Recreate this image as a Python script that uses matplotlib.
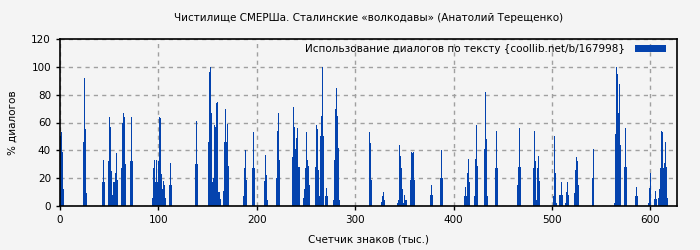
import matplotlib
matplotlib.use("Agg")
import matplotlib.pyplot as plt

positions = [0, 1, 2, 3,
             23, 24, 25, 26,
             43, 44, 45,
             49, 50, 51, 52, 53, 54, 55, 56, 57, 58,
             62, 63, 64, 65, 66,
             71, 72, 73,
             93, 94, 95, 96, 97, 98, 99, 100, 101, 102, 103, 104, 105, 106, 107,
             111, 112, 113,
             137, 138, 139,
             150, 151, 152, 153, 154, 155, 156, 157, 158, 159, 160, 161, 162, 163,
             166, 167, 168, 169, 170, 171,
             186, 187, 188, 189,
             195, 196, 197,
             207, 208, 209, 210,
             220, 221, 222, 223,
             236, 237, 238, 239, 240, 241, 242, 243,
             247, 248, 249, 250, 251, 252, 253,
             259, 260, 261, 262, 263,
             264, 265, 266, 267,
             269, 270, 271,
             277, 278, 279, 280, 281, 282, 283, 284,
             314, 315, 316,
             326, 327, 328, 329,
             342, 343, 344, 345, 346, 347, 348, 349, 350, 351, 352,
             356, 357, 358, 359, 360,
             376, 377, 378,
             386, 387, 388,
             411, 412, 413, 414, 415, 416,
             421, 422, 423, 424,
             431, 432, 433, 434,
             442, 443, 444,
             464, 465, 466, 467,
             481, 482, 483, 484, 485, 486, 487,
             501, 502, 503, 504,
             507, 508, 509, 510,
             513, 514, 515, 516,
             522, 523, 524, 525, 526,
             541, 542,
             563, 564, 565, 566, 567, 568, 569,
             573, 574, 575,
             584, 585, 586,
             598, 599, 600,
             604, 605, 606,
             608, 609, 610, 611, 612, 613, 614, 615, 616, 617]

values = [50, 53, 39, 12,
          46, 92, 55, 9,
          17, 33, 17,
          32, 64, 57, 25, 8, 17, 17, 24, 38, 19,
          27, 60, 67, 64, 30,
          32, 64, 32,
          6, 17, 27, 33, 17, 33, 17, 32, 64, 63, 23, 12, 18, 15, 6,
          15, 31, 15,
          30, 61, 30,
          46, 96, 100, 67, 17, 20, 49, 58, 57, 74, 75, 10, 10, 5,
          11, 46, 70, 46, 59, 29,
          7, 27, 40, 19,
          27, 53, 27,
          18, 37, 22, 4,
          20, 54, 67, 33,
          35, 71, 57, 41, 49, 56, 28, 28,
          6, 12, 27, 53, 33, 29, 15,
          28, 58, 55, 26, 7,
          50, 65, 100, 50,
          7, 13, 7,
          4, 33, 70, 85, 65, 77, 42, 4,
          53, 45, 19,
          3, 7, 10, 4,
          2, 4, 23, 44, 36, 27, 12, 2, 8, 4, 4,
          19, 39, 38, 39, 19,
          8, 15, 8,
          20, 40, 20,
          7, 14, 7, 24, 34, 17,
          7, 34, 58, 29,
          41, 82, 48, 7,
          27, 54, 27,
          15, 28, 56, 28,
          27, 54, 32, 4, 27, 36, 18,
          7, 50, 24, 2,
          8, 8, 17, 8,
          2, 10, 17, 8,
          9, 26, 35, 32, 15,
          20, 41,
          2, 52, 100, 95, 67, 88, 44,
          28, 56, 28,
          7, 14, 7,
          2, 13, 24,
          5, 11, 5,
          6, 12, 27, 54, 53, 27, 31, 46, 28, 6]

title = "Чистилище СМЕРШа. Сталинские «волкодавы» (Анатолий Терещенко)"
legend_label = "Использование диалогов по тексту {coollib.net/b/167998}"
xlabel = "Счетчик знаков (тыс.)"
ylabel = "% диалогов"
xticks = [0, 100, 200, 300, 400, 500, 600]
yticks = [0, 20, 40, 60, 80, 100, 120]

bg = "#f4f4f4"
bar_color = "#0443ae"
fs = 7.5

plt.rcParams['font.family'] = ['DejaVu Sans']
fig = plt.figure(figsize=(7, 2.5), dpi=100, facecolor=bg)
ax = fig.add_axes([60 / 700, 1 - 206 / 250, 617 / 700, 167 / 250])
ax.set_facecolor(bg)

ax.bar(positions, values, width=1.0, align='edge', color=bar_color,
       linewidth=0, label=legend_label, zorder=2)

ax.set_xlim(0, 627)
ax.set_ylim(0, 120)
ax.set_xticks(xticks)
ax.set_yticks(yticks)
ax.tick_params(labelsize=fs, length=3, width=1, color="black")
ax.grid(True, linestyle=(0, (3, 3)), color="#a0a0a0", linewidth=1, zorder=1)
ax.set_axisbelow(True)
for s in ax.spines.values():
    s.set_linewidth(1.2)
    s.set_color("black")

ax.set_title(title, fontsize=fs, pad=13)
ax.set_xlabel(xlabel, fontsize=fs, labelpad=7)
ax.set_ylabel(ylabel, fontsize=fs, labelpad=10)

ax.legend(loc='upper right', bbox_to_anchor=(1 - 6 / 617, 1), frameon=False,
          fontsize=fs, markerfirst=False,
          handlelength=3.0, handleheight=0.65, borderaxespad=0.1,
          handletextpad=0.95)

fig.savefig("out.png", dpi=100, facecolor=bg)
